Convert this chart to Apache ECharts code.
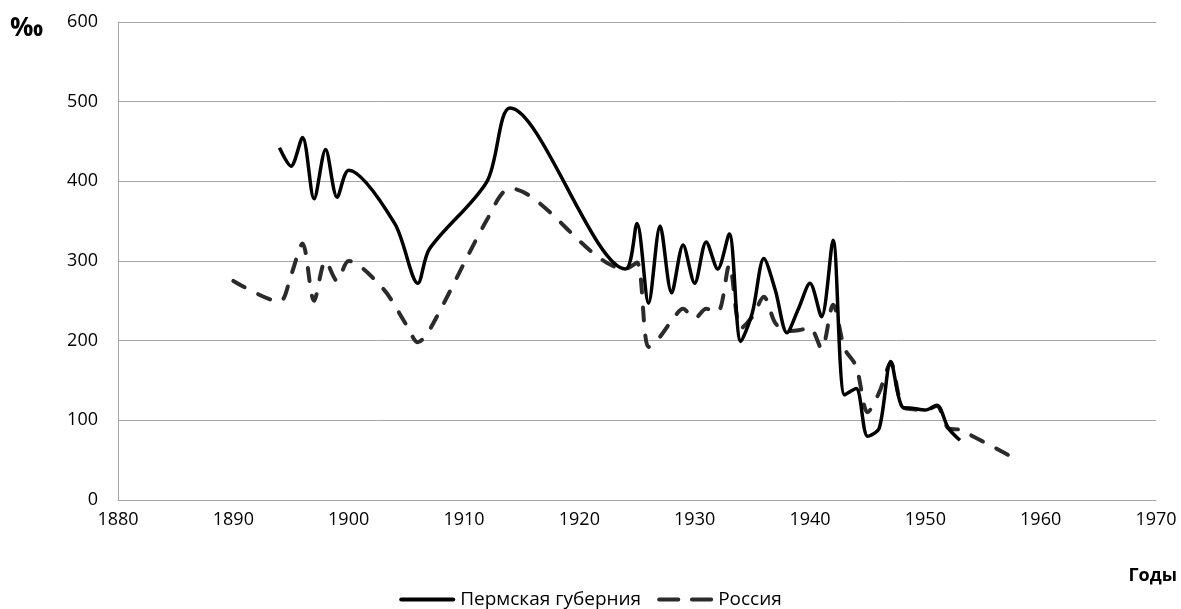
<!DOCTYPE html>
<html>
<head>
<meta charset="utf-8">
<script src="https://cdn.jsdelivr.net/npm/echarts@6/dist/echarts.min.js"></script>
<style>
  html, body { margin: 0; padding: 0; background: #fff; }
  #chart { width: 1181px; height: 609px; }
</style>
</head>
<body>
<div id="chart"></div>
<script>
// Пермская губерния
const permYears = [1894, 1895, 1896, 1897, 1898, 1899, 1900, 1904, 1906, 1907, 1912, 1914,
  1924, 1925, 1926, 1927, 1928, 1929, 1930, 1931, 1932, 1933, 1934, 1935, 1936, 1937, 1938,
  1939, 1940, 1941, 1942, 1943, 1944, 1945, 1946, 1947, 1948, 1949, 1950, 1951, 1952, 1953];
const permValues = [442, 419, 455, 378, 440, 380, 414, 347, 272, 315, 400, 492,
  290, 347, 247, 344, 260, 320, 272, 324, 290, 334, 199, 235, 303, 263, 210,
  240, 272, 230, 326, 132, 140, 80, 90, 174, 117, 115, 113, 119, 90, 75];

// Россия
const russiaYears = [1890, 1894, 1895, 1896, 1897, 1898, 1899, 1900, 1903, 1905, 1906, 1907, 1912, 1914,
  1924, 1925, 1926, 1927, 1928, 1929, 1930, 1931, 1932, 1933, 1934, 1935, 1936, 1937, 1938,
  1939, 1940, 1941, 1942, 1943, 1944, 1945, 1946, 1947, 1948, 1949, 1950, 1951, 1952, 1953, 1958];
const russiaValues = [275, 249, 282, 322, 250, 300, 275, 300, 265, 220, 198, 213, 352, 391,
  290, 298, 192, 205, 225, 240, 228, 240, 236, 295, 215, 230, 255, 222, 212,
  213, 216, 190, 245, 190, 168, 110, 135, 172, 117, 114, 113, 118, 90, 88, 50];

const seriesNames = ['Пермская губерния', 'Россия'];
const font = 'Open Sans';

function pairs(xs, ys) {
  return xs.map((x, i) => [x, ys[i]]);
}

const chart = echarts.init(document.getElementById('chart'));
chart.setOption({
  animation: false,
  textStyle: { fontFamily: font },
  grid: { left: 118, right: 25, top: 22, bottom: 109 },
  legend: {
    data: [
      { name: seriesNames[0], icon: 'path://M2,0H54A2,2,0,0,1,54,4H2A2,2,0,0,1,2,0Z' },
      { name: seriesNames[1], icon: 'path://M2,0H22A2,2,0,0,1,22,4H2A2,2,0,0,1,2,0Z M36,0H56A2,2,0,0,1,56,4H36A2,2,0,0,1,36,0Z' }
    ],
    bottom: -5,
    left: 'center',
    itemWidth: 56,
    itemHeight: 4,
    itemGap: 16,
    textStyle: { fontFamily: font, fontSize: 19, color: '#000' }
  },
  graphic: [
    {
      type: 'text', left: 10, top: 16,
      style: { text: '‰', font: 'bold 26px ' + font, fill: '#000' }
    },
    {
      type: 'text', right: 4, top: 567,
      style: { text: 'Годы', font: 'bold 18px ' + font, fill: '#000' }
    }
  ],
  xAxis: {
    type: 'value',
    min: 1880,
    max: 1970,
    interval: 10,
    axisLine: { show: true, lineStyle: { color: '#a6a6a6', width: 1 } },
    axisTick: { show: false },
    splitLine: { show: false },
    axisLabel: { color: '#000', fontSize: 18, margin: 11, formatter: v => String(v) }
  },
  yAxis: {
    type: 'value',
    min: 0,
    max: 600,
    interval: 100,
    axisLine: { show: true, lineStyle: { color: '#a6a6a6', width: 1 } },
    axisTick: { show: false },
    splitLine: { lineStyle: { color: '#a6a6a6', width: 1 } },
    axisLabel: { color: '#000', fontSize: 18, margin: 20 }
  },
  series: [
    {
      name: seriesNames[0],
      type: 'line',
      smooth: 0.3,
      symbol: 'none',
      data: pairs(permYears, permValues),
      lineStyle: { color: '#000', width: 3.5 },
      itemStyle: { color: '#000' },
      z: 3
    },
    {
      name: seriesNames[1],
      type: 'line',
      smooth: 0.3,
      symbol: 'none',
      data: pairs(russiaYears, russiaValues),
      lineStyle: { color: '#2b2b2b', width: 4, type: [13, 15], cap: 'round' },
      itemStyle: { color: '#2b2b2b' },
      z: 2
    }
  ]
});
</script>
</body>
</html>
